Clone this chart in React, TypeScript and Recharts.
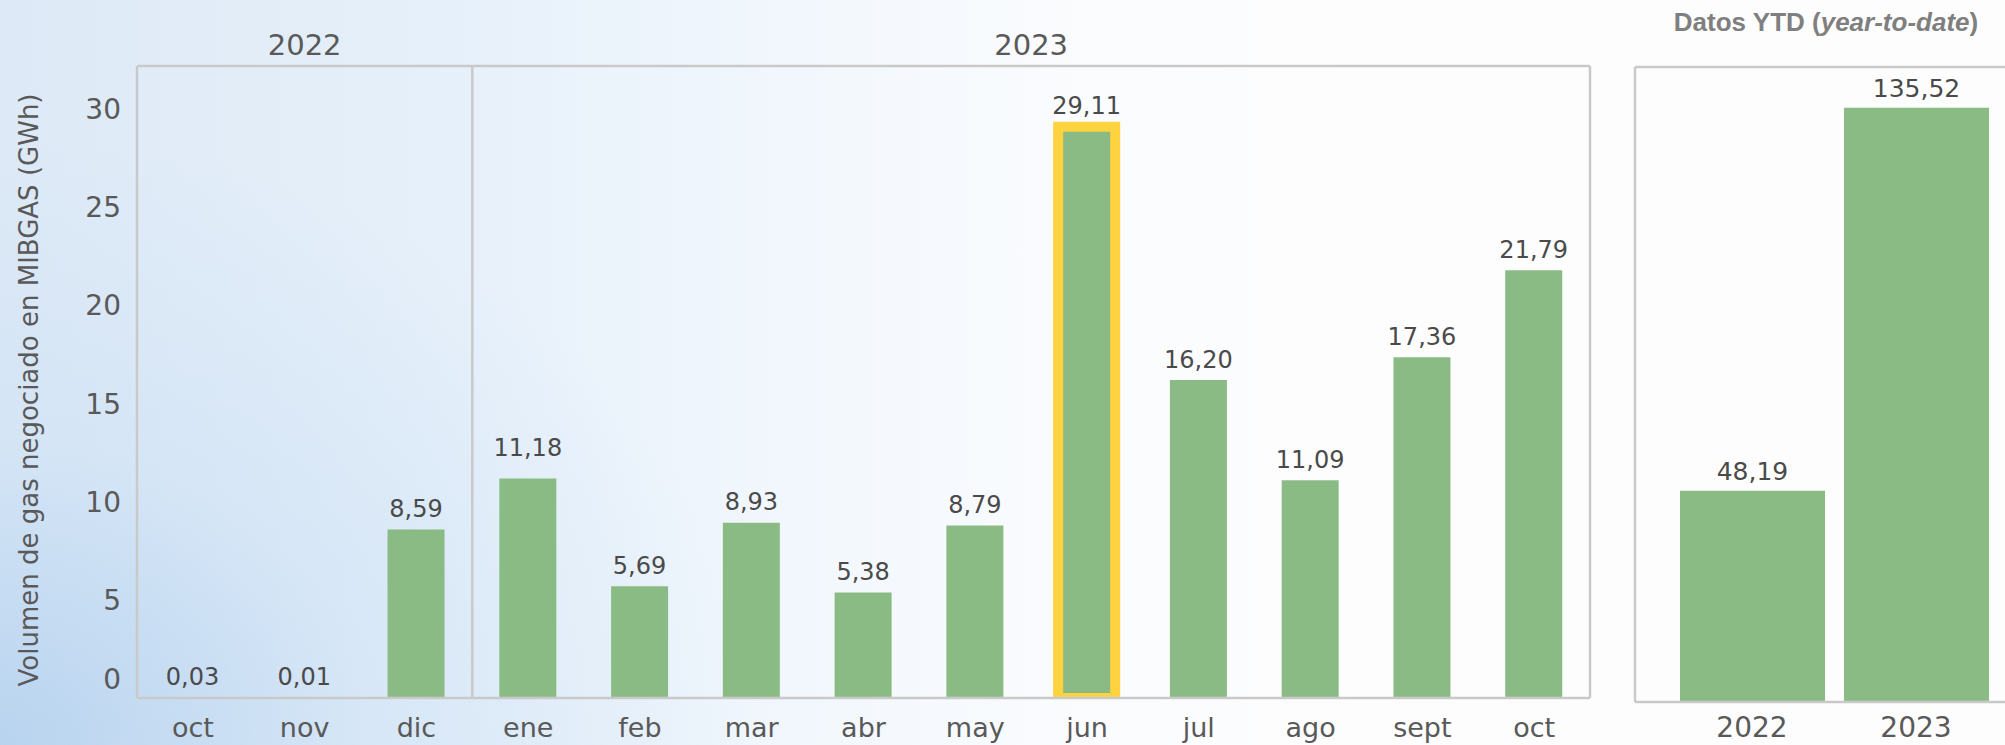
import React from "react";
import { BarChart, Bar, XAxis, YAxis, Cell, LabelList, ReferenceLine } from "recharts";

// ---- data ----
const MONTHS = ["oct", "nov", "dic", "ene", "feb", "mar", "abr", "may", "jun", "jul", "ago", "sept", "oct"];
const VOLUMES = [0.03, 0.01, 8.59, 11.18, 5.69, 8.93, 5.38, 8.79, 29.11, 16.2, 11.09, 17.36, 21.79];
const HIGHLIGHT_INDEX = 8; // jun 2023
const YEAR_LABELS = ["2022", "2023"];
const YEAR_SPANS = [3, 10];
const Y_TICKS = [0, 5, 10, 15, 20, 25, 30];
const Y_MAX = 32.2;

const YTD_YEARS = ["2022", "2023"];
const YTD_VALUES = [48.19, 135.52];
const YTD_MAX = 144.8;

const Y_TITLE = "Volumen de gas negociado en MIBGAS (GWh)";
const YTD_TITLE = "Datos YTD";
const YTD_SUBTITLE = "year-to-date";

// ---- styles ----
const GREEN = "#8BBB84";
const YELLOW = "#FFD23F";
const FRAME = "#C9C9C9";
const TICK_COLOR = "#595959";
const LABEL_COLOR = "#4A4A4A";
const FONT = "'DejaVu Sans', Verdana, sans-serif";
const LABEL_LIFT: Record<number, number> = { 3: 10 };

const fmt = (v: number) => v.toFixed(2).replace(".", ",");

// year of each month, built from the spans
const MONTH_YEARS: string[] = [];
YEAR_SPANS.forEach((s, yi) => {
  for (let k = 0; k < s; k++) MONTH_YEARS.push(YEAR_LABELS[yi]);
});

const mainData = MONTHS.map((m, i) => ({ key: `${m} ${MONTH_YEARS[i]}`, month: m, value: VOLUMES[i], idx: i }));
const ytdData = YTD_YEARS.map((y, i) => ({ year: y, value: YTD_VALUES[i] }));

// year group label anchors (category + position on the band)
const yearAnchors: { key: string; position: "middle" | "end"; label: string }[] = [];
const yearStarts: string[] = [];
{
  let s = 0;
  YEAR_SPANS.forEach((n, yi) => {
    yearStarts.push(mainData[s].key);
    if (n % 2 === 1) {
      yearAnchors.push({ key: mainData[s + (n - 1) / 2].key, position: "middle", label: YEAR_LABELS[yi] });
    } else {
      yearAnchors.push({ key: mainData[s + n / 2 - 1].key, position: "end", label: YEAR_LABELS[yi] });
    }
    s += n;
  });
}
const lastKey = mainData[mainData.length - 1].key;

const MonthTick = (props: any) => {
  const { x, y, payload } = props;
  return (
    <text x={x} y={y + 39} textAnchor="middle" fill={TICK_COLOR} fontFamily={FONT} fontSize={27}>
      {String(payload.value).split(" ")[0]}
    </text>
  );
};

const YTick = (props: any) => {
  const { x, y, payload } = props;
  const shift = payload.value === 0 ? -19 : 0;
  return (
    <text x={x} y={y + shift + 10} textAnchor="end" fill={TICK_COLOR} fontFamily={FONT} fontSize={28}>
      {payload.value}
    </text>
  );
};

const ValueLabel = (props: any) => {
  const { x, y, width, value, index } = props;
  const lift = LABEL_LIFT[index] || 0;
  return (
    <text x={x + width / 2} y={y - 12.5 - lift} textAnchor="middle" fill={LABEL_COLOR} fontFamily={FONT} fontSize={24}>
      {fmt(Number(value))}
    </text>
  );
};

const YtdLabel = (props: any) => {
  const { x, y, width, value } = props;
  return (
    <text x={x + width / 2} y={y - 11} textAnchor="middle" fill={LABEL_COLOR} fontFamily={FONT} fontSize={25}>
      {fmt(Number(value))}
    </text>
  );
};

const YtdTick = (props: any) => {
  const { x, y, payload } = props;
  return (
    <text x={x} y={y + 35} textAnchor="middle" fill={TICK_COLOR} fontFamily={FONT} fontSize={28}>
      {payload.value}
    </text>
  );
};

const frameLine = { stroke: FRAME, strokeWidth: 2.5 };

export default function App() {
  return (
    <div
      style={{
        position: "absolute",
        left: 0,
        top: 0,
        width: 2005,
        height: 745,
        overflow: "hidden",
        background:
          "radial-gradient(ellipse 950px 760px at 0% 100%, rgba(178,208,238,0.85) 0%, rgba(205,225,245,0.55) 40%, rgba(255,255,255,0) 80%), linear-gradient(90deg, #dde9f6 0%, #e6f0fa 22%, #f3f8fd 42%, #fbfcfe 55%, #fdfdfd 70%)",
      }}
    >
      <div style={{ position: "absolute", left: 0, top: 0 }}>
        <BarChart width={1600} height={745} data={mainData} margin={{ top: 66, right: 10, bottom: 2, left: 37 }}>
          <XAxis
            dataKey="key"
            height={45}
            interval={0}
            tickLine={false}
            tickSize={0}
            tickMargin={0}
            axisLine={frameLine}
            tick={<MonthTick />}
          />
          <YAxis
            domain={[0, Y_MAX]}
            ticks={Y_TICKS}
            allowDataOverflow
            width={100}
            tickLine={false}
            tickSize={0}
            tickMargin={16}
            axisLine={frameLine}
            tick={<YTick />}
          />
          <ReferenceLine y={Y_MAX} stroke={FRAME} strokeWidth={2.5} />
          {yearStarts.slice(1).map((k) => (
            <ReferenceLine key={k} x={k} position="start" stroke={FRAME} strokeWidth={2.5} />
          ))}
          <ReferenceLine x={lastKey} position="end" stroke={FRAME} strokeWidth={2.5} />
          {yearAnchors.map((a) => (
            <ReferenceLine
              key={"lbl-" + a.label}
              x={a.key}
              position={a.position}
              stroke="none"
              label={{
                value: a.label,
                position: "top",
                offset: 11,
                fill: TICK_COLOR,
                fontSize: 29,
                fontFamily: FONT,
              }}
            />
          ))}
          <Bar dataKey="value" barSize={57} fill={GREEN} isAnimationActive={false}>
            {mainData.map((d, i) => (
              <Cell
                key={i}
                fill={GREEN}
                stroke={i === HIGHLIGHT_INDEX ? YELLOW : "none"}
                strokeWidth={i === HIGHLIGHT_INDEX ? 10 : 0}
              />
            ))}
            <LabelList dataKey="value" content={<ValueLabel />} />
          </Bar>
        </BarChart>
      </div>

      <div style={{ position: "absolute", left: 1600, top: 0 }}>
        <BarChart width={420} height={745} data={ytdData} margin={{ top: 67, right: 0, bottom: 0, left: 34 }}>
          <XAxis
            dataKey="year"
            height={43}
            interval={0}
            padding={{ left: 35, right: 22 }}
            tickLine={false}
            tickSize={0}
            tickMargin={0}
            axisLine={frameLine}
            tick={<YtdTick />}
          />
          <YAxis
            domain={[0, YTD_MAX]}
            allowDataOverflow
            width={1}
            tick={false}
            tickLine={false}
            axisLine={frameLine}
          />
          <ReferenceLine y={YTD_MAX} stroke={FRAME} strokeWidth={2.5} />
          <Bar dataKey="value" barSize={145} fill={GREEN} isAnimationActive={false}>
            <LabelList dataKey="value" content={<YtdLabel />} />
          </Bar>
        </BarChart>
      </div>

      <svg
        width={2005}
        height={745}
        style={{ position: "absolute", left: 0, top: 0, pointerEvents: "none" }}
      >
        <text
          transform="translate(29,390) rotate(-90)"
          textAnchor="middle"
          dominantBaseline="central"
          fill={TICK_COLOR}
          fontFamily={FONT}
          fontSize={26}
        >
          {Y_TITLE}
        </text>
        <text
          x={1826}
          y={31}
          textAnchor="middle"
          fill="#7F7F7F"
          fontFamily="'Liberation Sans', Arial, sans-serif"
          fontWeight="bold"
          fontSize={26}
        >
          {YTD_TITLE} (<tspan fontStyle="italic">{YTD_SUBTITLE}</tspan>)
        </text>
      </svg>
    </div>
  );
}
